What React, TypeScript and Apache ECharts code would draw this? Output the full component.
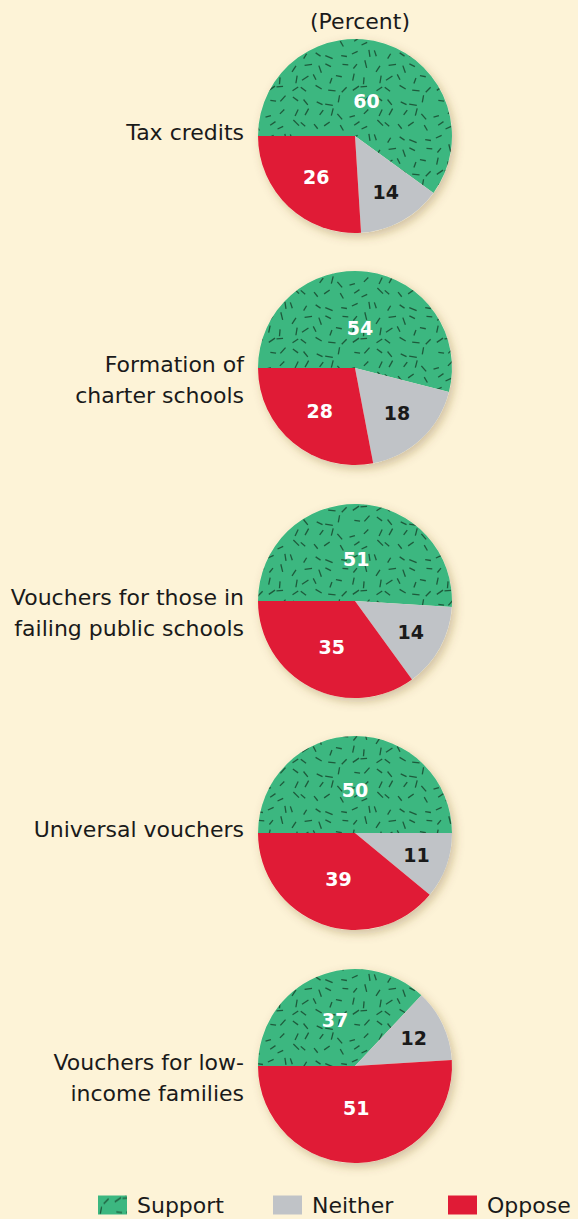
import React, { useEffect, useRef } from "react";
import * as echarts from "echarts";

const categories = [
  "Tax credits",
  "Formation of\ncharter schools",
  "Vouchers for those in\nfailing public schools",
  "Universal vouchers",
  "Vouchers for low-\nincome families",
];
const sliceNames = ["Support", "Neither", "Oppose"];
const supportValues = [60, 54, 51, 50, 37];
const neitherValues = [14, 18, 14, 11, 12];
const opposeValues = [26, 28, 35, 39, 51];
const unitLabel = "(Percent)";

const BG = "#fdf3d7";
const GREEN = "#3cb780";
const GRAY = "#c0c3c7";
const RED = "#e01b36";
const DARK = "#1a1a1a";
const FONT = "'DejaVu Sans', 'Noto Sans', sans-serif";

const CX = 355;
const R = 97;
const centersY = [136, 368, 601, 833, 1066];

function makeTexture(): HTMLCanvasElement {
  const cells = 7;
  const cell = 12;
  const size = cells * cell;
  const c = document.createElement("canvas");
  c.width = size;
  c.height = size;
  const ctx = c.getContext("2d")!;
  ctx.fillStyle = GREEN;
  ctx.fillRect(0, 0, size, size);
  ctx.strokeStyle = "#1e5a3b";
  ctx.lineWidth = 1.3;
  ctx.lineCap = "butt";
  let seed = 98765;
  const rnd = () => {
    seed = (seed * 1103515245 + 12345) % 2147483648;
    return seed / 2147483648;
  };
  for (let gx = 0; gx < cells; gx++) {
    for (let gy = 0; gy < cells; gy++) {
      const x = gx * cell + cell / 2 + (rnd() - 0.5) * 7;
      const y = gy * cell + cell / 2 + (rnd() - 0.5) * 7;
      const a = rnd() * Math.PI;
      const len = 5.5 + rnd() * 2.5;
      const dx = (Math.cos(a) * len) / 2;
      const dy = (Math.sin(a) * len) / 2;
      for (const ox of [-size, 0, size]) {
        for (const oy of [-size, 0, size]) {
          ctx.beginPath();
          ctx.moveTo(x + ox - dx, y + oy - dy);
          ctx.lineTo(x + ox + dx, y + oy + dy);
          ctx.stroke();
        }
      }
    }
  }
  return c;
}

export default function App() {
  const ref = useRef<HTMLDivElement>(null);
  useEffect(() => {
    if (!ref.current) return;
    const chart = echarts.init(ref.current, undefined, { renderer: "svg" });
    const tex = makeTexture();
    const pattern: any = { image: tex, repeat: "repeat", imageWidth: tex.width, imageHeight: tex.height };
    const colors = [pattern, GRAY, RED];
    const labelColors = ["#ffffff", DARK, "#ffffff"];

    const series: any[] = [];
    centersY.forEach((cy, idx) => {
      series.push({
        type: "pie",
        silent: true,
        center: [CX, cy],
        radius: R,
        z: 1,
        label: { show: false },
        labelLine: { show: false },
        itemStyle: {
          color: BG,
          shadowBlur: 10,
          shadowOffsetX: 3,
          shadowOffsetY: 4,
          shadowColor: "rgba(110,80,30,0.3)",
        },
        data: [{ value: 1, name: "bg" + idx }],
      });
      const vals = [supportValues[idx], neitherValues[idx], opposeValues[idx]];
      const total = vals.reduce((a, b) => a + b, 0);
      series.push({
        type: "pie",
        silent: true,
        center: [CX, cy],
        radius: R,
        startAngle: 180,
        clockwise: true,
        z: 2,
        labelLine: { show: false },
        label: {
          show: true,
          position: "inside",
          formatter: "{c}",
          fontFamily: FONT,
          fontWeight: "bold",
          fontSize: 19,
        },
        labelLayout: (p: any) => {
          const i = p.dataIndex;
          const before = vals.slice(0, i).reduce((a, b) => a + b, 0);
          const frac = vals[i] / total;
          const mid = Math.PI - (before / total + frac / 2) * 2 * Math.PI;
          const rr = R * (0.74 - 0.6 * frac);
          return {
            x: CX + rr * Math.cos(mid),
            y: cy - rr * Math.sin(mid),
            align: "center",
            verticalAlign: "middle",
          };
        },
        data: vals.map((v, i) => ({
          value: v,
          name: sliceNames[i],
          itemStyle: { color: colors[i] },
          label: { color: labelColors[i] },
        })),
      });
    });

    const legendLefts = [98, 273, 448];
    const legends = sliceNames.map((n, i) => ({
      data: [n],
      left: legendLefts[i],
      top: 1194,
      padding: 0,
      icon: "rect",
      itemWidth: 29,
      itemHeight: 19,
      selectedMode: false,
      textStyle: {
        fontFamily: FONT,
        fontSize: 22,
        color: DARK,
        padding: [0, 0, 0, 5],
      },
    }));

    const graphics = categories.map((c, i) => ({
      type: "text",
      x: 244,
      y: centersY[i] - 4 - 15.5,
      style: {
        text: c,
        fill: DARK,
        fontFamily: FONT,
        fontSize: 22,
        align: "right",
        verticalAlign: "top",
        lineHeight: 31,
      },
    }));

    chart.setOption({
      animation: false,
      backgroundColor: BG,
      title: {
        text: unitLabel,
        left: CX,
        top: 5,
        textAlign: "center",
        textStyle: { fontFamily: FONT, fontSize: 22, fontWeight: "normal", color: DARK },
      },
      legend: legends,
      graphic: graphics,
      series,
    });
    return () => chart.dispose();
  }, []);
  return (
    <div
      ref={ref}
      style={{ position: "absolute", left: 0, top: 0, width: 578, height: 1219, background: BG }}
    />
  );
}
